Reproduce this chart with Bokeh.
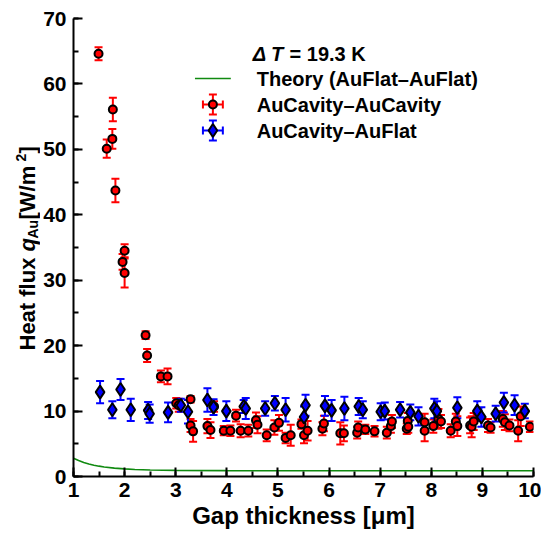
import math
from bokeh.plotting import figure
from bokeh.layouts import row
from bokeh.models import (Range1d, ColumnDataSource, Whisker, TeeHead, Label,
                          SingleIntervalTicker)
from bokeh.embed import file_html
from bokeh.resources import INLINE

# ---------------- data ----------------
theory_x = [1.0, 1.1, 1.2, 1.3, 1.4, 1.5, 1.6, 1.8, 2.0, 2.2, 2.5, 3.0, 4.0, 5.0, 6.0, 7.0, 8.0, 9.0, 10.0]
theory_y = [2.8, 2.45, 2.15, 1.92, 1.73, 1.58, 1.46, 1.28, 1.16, 1.08, 1.0, 0.93, 0.9, 0.88, 0.87, 0.87, 0.87, 0.87, 0.87]

cc_x = [1.49, 1.65, 1.76, 1.77, 1.82, 1.96, 2.00, 2.00, 2.41, 2.44, 2.71, 2.84,
        3.01, 3.06, 3.29, 3.29, 3.34, 3.62, 3.68, 3.75, 3.94, 4.07, 4.18, 4.27,
        4.42, 4.57, 4.60, 4.78, 4.93, 5.02, 5.15, 5.25, 5.46, 5.51, 5.58, 5.87,
        5.90, 6.22, 6.29, 6.55, 6.57, 6.71, 6.89, 7.13, 7.21, 7.23, 7.52, 7.54,
        7.55, 7.87, 7.87, 8.04, 8.14, 8.19, 8.38, 8.48, 8.51, 8.76, 8.79, 8.83,
        9.11, 9.16, 9.40, 9.44, 9.53, 9.70, 9.75, 9.93]
cc_y = [64.6, 50.1, 51.6, 56.1, 43.7, 32.8, 34.5, 31.1, 21.6, 18.5, 15.3, 15.3,
        11.2, 10.9, 11.8, 7.8, 6.9, 7.7, 7.1, 10.7, 7.0, 7.0, 9.3, 7.0,
        7.0, 8.6, 7.9, 6.3, 7.5, 8.2, 5.9, 6.3, 8.0, 6.3, 7.0, 7.3,
        8.1, 6.6, 6.6, 6.7, 7.5, 7.2, 6.9, 6.7, 7.7, 8.4, 7.3, 8.5,
        7.6, 7.0, 8.3, 7.7, 8.8, 8.4, 7.0, 8.4, 7.7, 7.8, 7.6, 8.4,
        7.8, 7.5, 8.8, 8.3, 7.8, 7.0, 9.2, 7.6]
cc_err = [1.0, 1.4, 1.5, 1.8, 1.8, 1.2, 1.0, 2.2, 0.6, 1.0, 0.9, 1.2,
          0.8, 1.0, 0.5, 1.0, 1.6, 1.1, 1.2, 0.8, 0.7, 0.8, 0.9, 1.0,
          0.9, 1.2, 1.3, 0.9, 1.1, 1.2, 0.8, 1.6, 0.7, 1.2, 1.5, 1.0,
          1.2, 1.7, 1.2, 0.9, 0.9, 0.7, 0.8, 0.9, 1.0, 1.0, 0.8, 1.2,
          0.9, 1.6, 1.3, 1.0, 1.5, 1.0, 1.0, 1.2, 1.5, 1.2, 1.6, 1.3,
          1.0, 0.8, 1.2, 1.2, 0.9, 1.6, 1.5, 0.8]

cf_x = [1.52, 1.76, 1.92, 2.12, 2.46, 2.49, 2.85, 3.10, 3.24, 3.62, 3.74, 3.99,
        4.33, 4.37, 4.75, 4.94, 5.15, 5.51, 5.54, 5.92, 6.05, 6.30, 6.58, 6.66,
        7.01, 7.09, 7.39, 7.59, 7.75, 8.06, 8.11, 8.51, 8.90, 8.98, 9.26, 9.42,
        9.63, 9.83]
cf_y = [12.9, 10.2, 13.3, 10.2, 10.1, 9.6, 9.8, 10.9, 9.9, 11.7, 10.6, 10.0,
        10.7, 10.4, 10.4, 11.2, 10.2, 9.1, 10.9, 10.8, 10.1, 10.4, 10.7, 10.2,
        9.9, 10.0, 10.2, 9.8, 9.2, 10.4, 10.0, 10.5, 10.0, 9.1, 9.6, 11.3,
        10.9, 10.0]
cf_err = [1.7, 1.3, 1.6, 1.7, 1.3, 1.4, 1.5, 1.0, 1.8, 1.8, 1.2, 1.5,
          1.0, 1.6, 1.1, 1.1, 1.8, 1.6, 1.6, 1.5, 1.6, 1.8, 1.3, 1.3,
          1.3, 1.3, 1.2, 1.2, 1.4, 1.5, 1.5, 1.6, 1.5, 1.5, 1.2, 1.5,
          1.5, 1.1]

x_ticks_interval = 1
y_ticks_interval = 10

legend_title_a = "Δ T"
legend_title_b = "= 19.3 K"
legend_labels = ["Theory (AuFlat–AuFlat)", "AuCavity–AuCavity", "AuCavity–AuFlat"]
ylabel_parts = ["Heat flux ", "q", "Au", " [W/m", "2", "]"]

RED = "#ff0000"
BLUE = "#0000ff"
GREEN = "#108a10"
FONT = "Liberation Sans"

W, H = 541, 536
LW = 40                              # width of the y-label strip
FL, FR, FT, FB = 71, 533, 18, 476    # frame edges in page pixels

# ---------------- y-label strip (its frame spans the same rows as the plot frame) ----------------
lp = figure(width=LW, height=H, output_backend="svg", toolbar_location=None,
            title=None, x_range=Range1d(0, LW), y_range=Range1d(FB, FT),
            x_axis_location=None, y_axis_location=None,
            min_border=0, min_border_left=0, min_border_right=0,
            min_border_top=FT, min_border_bottom=H - FB)
lp.grid.visible = False
lp.outline_line_color = None

def slab(text, px, py, size="22px", style="bold"):
    lp.add_layout(Label(x=px, y=py, text=text, text_font=FONT,
                        text_font_style=style, text_font_size=size,
                        text_color="black", text_baseline="middle",
                        text_align="left", angle=math.pi / 2))

xl = 27
y0 = 350
slab(ylabel_parts[0], xl, y0)
slab(ylabel_parts[1], xl, y0 - 99, style="bold italic")
slab(ylabel_parts[2], xl + 5, y0 - 112, size="14px")
slab(ylabel_parts[3], xl, y0 - 131)
slab(ylabel_parts[4], xl - 7, y0 - 189, size="14px")
slab(ylabel_parts[5], xl, y0 - 197)

# ---------------- main figure ----------------
p = figure(width=W - LW, height=H, output_backend="svg", toolbar_location=None,
           title=None, x_range=Range1d(1, 10), y_range=Range1d(0, 70),
           min_border_left=FL - LW, min_border_right=W - FR, min_border_top=FT,
           min_border_bottom=H - FB)
p.extra_x_ranges = {"fx": Range1d(0, 1)}
p.extra_y_ranges = {"fy": Range1d(0, 1)}
p.outline_line_color = None
p.xgrid.visible = False
p.ygrid.visible = False
p.background_fill_color = "white"
p.border_fill_color = "white"

p.xaxis.ticker = SingleIntervalTicker(interval=x_ticks_interval, num_minor_ticks=2)
p.yaxis.ticker = SingleIntervalTicker(interval=y_ticks_interval, num_minor_ticks=2)
for ax in (p.xaxis[0], p.yaxis[0]):
    ax.axis_line_width = 2
    ax.axis_line_color = "black"
    ax.major_tick_line_width = 2
    ax.minor_tick_line_width = 2
    ax.major_tick_in = 9
    ax.major_tick_out = 0
    ax.minor_tick_in = 5
    ax.minor_tick_out = 0
    ax.major_label_text_font = FONT
    ax.major_label_text_font_style = "bold"
    ax.major_label_text_font_size = "21px"
    ax.major_label_text_color = "black"
p.yaxis.major_label_standoff = 7
p.xaxis.major_label_standoff = 6
p.xaxis.axis_label = "Gap thickness [μm]"
p.xaxis.axis_label_text_font = FONT
p.xaxis.axis_label_text_font_style = "bold"
p.xaxis.axis_label_text_font_size = "24px"
p.xaxis.axis_label_text_color = "black"
p.xaxis.axis_label_standoff = 2

# theory line
p.line(theory_x, theory_y, line_color=GREEN, line_width=1.6)

cc = ColumnDataSource(dict(x=cc_x, y=cc_y,
                           lo=[a - b for a, b in zip(cc_y, cc_err)],
                           hi=[a + b for a, b in zip(cc_y, cc_err)]))
cf = ColumnDataSource(dict(x=cf_x, y=cf_y,
                           lo=[a - b for a, b in zip(cf_y, cf_err)],
                           hi=[a + b for a, b in zip(cf_y, cf_err)]))

for src, col in ((cc, RED), (cf, BLUE)):
    w = Whisker(source=src, base="x", lower="lo", upper="hi", dimension="height",
                line_color=col, line_width=2,
                lower_head=TeeHead(size=8, line_color=col, line_width=2),
                upper_head=TeeHead(size=8, line_color=col, line_width=2))
    p.add_layout(w)

p.scatter("x", "y", source=cc, marker="circle", size=8, fill_color=RED,
          line_color="black", line_width=2)
p.scatter("x", "y", source=cf, marker="diamond", size=13, fill_color=BLUE,
          line_color="black", line_width=2)

# ---------------- legend (frame-normalised coords) ----------------
def fxp(px):
    return (px - FL) / float(FR - FL)

def fyp(py):
    return (FB - py) / float(FB - FT)

kw = dict(x_range_name="fx", y_range_name="fy")
p.line([fxp(193), fxp(229)], [fyp(78), fyp(78)], line_color=GREEN, line_width=1.6, **kw)

for cy, col, mk, sz in ((104, RED, "circle", 8), (130, BLUE, "diamond", 13)):
    cx = 211
    p.segment([fxp(cx - 10), fxp(cx)], [fyp(cy), fyp(cy - 10)],
              [fxp(cx + 10), fxp(cx)], [fyp(cy), fyp(cy + 10)],
              line_color=col, line_width=2, **kw)
    p.segment([fxp(cx - 10), fxp(cx + 10), fxp(cx - 4), fxp(cx - 4)],
              [fyp(cy - 4), fyp(cy - 4), fyp(cy - 10), fyp(cy + 10)],
              [fxp(cx - 10), fxp(cx + 10), fxp(cx + 4), fxp(cx + 4)],
              [fyp(cy + 4), fyp(cy + 4), fyp(cy - 10), fyp(cy + 10)],
              line_color=col, line_width=2, **kw)
    p.scatter([fxp(cx)], [fyp(cy)], marker=mk, size=sz, fill_color=col,
              line_color="black", line_width=2, **kw)

def lab(text, px, py, size="20px", style="bold"):
    p.add_layout(Label(x=fxp(px), y=fyp(py), text=text, text_font=FONT,
                       text_font_style=style, text_font_size=size,
                       text_color="black", text_baseline="middle",
                       text_align="left", **kw))

lab(legend_title_a, 251, 53, style="bold italic")
lab(legend_title_b, 288, 53)
for i, t in enumerate(legend_labels):
    lab(t, 255, 78 + 26 * i)

layout = row(lp, p, spacing=0)
html = file_html(layout, INLINE)
open("out.html", "w").write(html)
